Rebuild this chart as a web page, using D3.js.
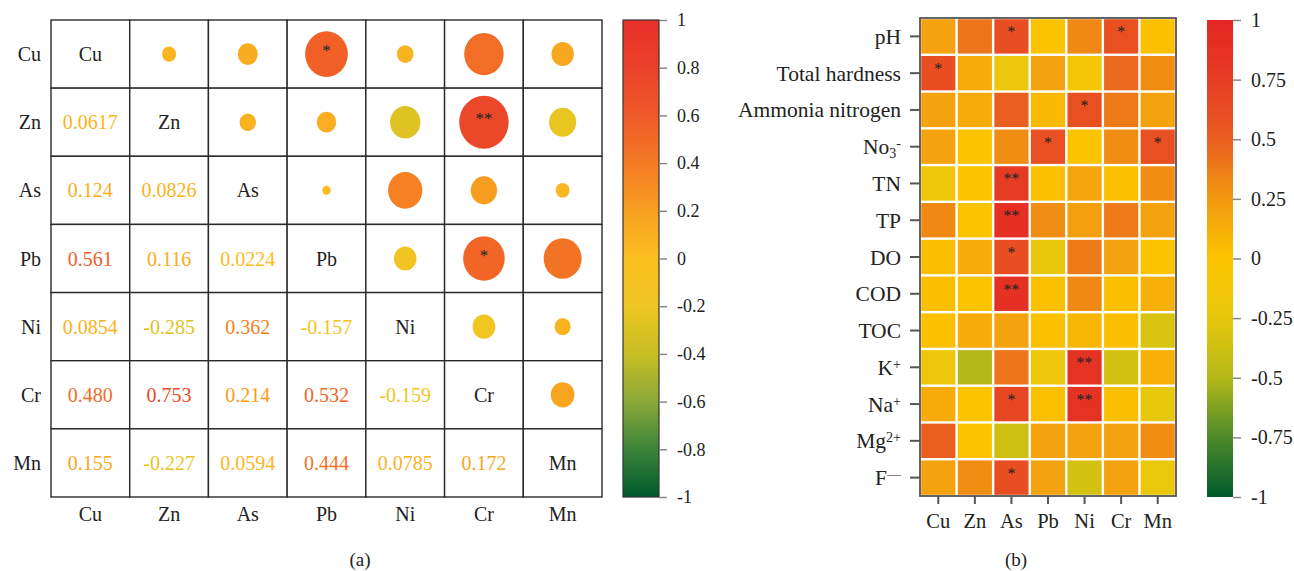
<!DOCTYPE html>
<html>
<head>
<meta charset="utf-8">
<script src="https://cdn.jsdelivr.net/npm/d3@7"></script>
<style>
  body { margin: 0; background: #fff; }
  svg text { font-family: "Liberation Serif", "DejaVu Serif", serif; fill: #222; }
</style>
</head>
<body>
<svg id="chart" width="1294" height="571"></svg>
<script>
// ---- data ----
const metals = ["Cu", "Zn", "As", "Pb", "Ni", "Cr", "Mn"];

// lower triangle of correlation matrix (row i, columns 0..i-1)
const corrLower = [
  [],
  [0.0617],
  [0.124, 0.0826],
  [0.561, 0.116, 0.0224],
  [0.0854, -0.285, 0.362, -0.157],
  [0.480, 0.753, 0.214, 0.532, -0.159],
  [0.155, -0.227, 0.0594, 0.444, 0.0785, 0.172]
];
// labels as printed (keeps trailing zeros)
const corrLabels = [
  [],
  ["0.0617"],
  ["0.124", "0.0826"],
  ["0.561", "0.116", "0.0224"],
  ["0.0854", "-0.285", "0.362", "-0.157"],
  ["0.480", "0.753", "0.214", "0.532", "-0.159"],
  ["0.155", "-0.227", "0.0594", "0.444", "0.0785", "0.172"]
];
// significance marks in upper triangle: [row, col, mark]
const sigA = [["Cu", "Pb", "*"], ["Zn", "Cr", "**"], ["Pb", "Cr", "*"]];

const ticksA = [1, 0.8, 0.6, 0.4, 0.2, 0, -0.2, -0.4, -0.6, -0.8, -1];
const ticksB = [1, 0.75, 0.5, 0.25, 0, -0.25, -0.5, -0.75, -1];

// water quality parameters (segments: [text, "n" | "sub" | "sup"])
const params = [
  [["pH", "n"]],
  [["Total hardness", "n"]],
  [["Ammonia nitrogen", "n"]],
  [["No", "n"], ["3", "sub"], ["-", "sup"]],
  [["TN", "n"]],
  [["TP", "n"]],
  [["DO", "n"]],
  [["COD", "n"]],
  [["TOC", "n"]],
  [["K", "n"], ["+", "sup"]],
  [["Na", "n"], ["+", "sup"]],
  [["Mg", "n"], ["2+", "sup"]],
  [["F", "n"], ["\u2014", "sup"]]
];

// rows = params, cols = metals (Cu Zn As Pb Ni Cr Mn)
const heat = [
  [0.20, 0.40, 0.62, 0.00, 0.32, 0.60, 0.02],
  [0.62, 0.15, -0.20, 0.20, -0.10, 0.45, 0.30],
  [0.20, 0.15, 0.50, 0.06, 0.60, 0.38, 0.20],
  [0.20, 0.00, 0.30, 0.60, 0.00, 0.30, 0.60],
  [-0.18, 0.00, 0.75, 0.02, 0.18, 0.02, 0.30],
  [0.32, 0.00, 0.90, 0.30, 0.22, 0.38, 0.20],
  [0.03, 0.15, 0.62, -0.25, 0.38, 0.20, 0.00],
  [0.03, 0.00, 0.88, 0.02, 0.32, 0.03, 0.12],
  [0.02, 0.15, 0.20, 0.02, 0.08, 0.03, -0.33],
  [-0.20, -0.50, 0.40, -0.20, 0.85, -0.35, 0.12],
  [0.15, 0.00, 0.68, 0.02, 0.85, 0.03, -0.25],
  [0.50, 0.00, -0.38, 0.20, 0.20, 0.20, 0.30],
  [0.20, 0.30, 0.62, 0.20, -0.35, 0.20, -0.22]
];
const heatStars = [
  [0, "As", "*"], [0, "Cr", "*"], [1, "Cu", "*"], [2, "Ni", "*"],
  [3, "Pb", "*"], [3, "Mn", "*"], [4, "As", "**"], [5, "As", "**"],
  [6, "As", "*"], [7, "As", "**"], [9, "Ni", "**"], [10, "As", "*"],
  [10, "Ni", "**"], [12, "As", "*"]
];

// ---- colour scales ----
const colA = d3.scaleLinear()
  .domain([-1, -0.8, -0.6, -0.4, -0.2, 0, 0.2, 0.4, 0.6, 0.8, 1])
  .range(["#005a2c", "#3c843a", "#8aa838", "#c8be24", "#eec622", "#fbbf20",
          "#f7a020", "#f47a24", "#ef5a28", "#ea4229", "#e8302a"]);
const colB = d3.scaleLinear()
  .domain([-1, -0.75, -0.5, -0.25, 0, 0.25, 0.5, 0.75, 1])
  .range(["#005a2c", "#4c8a2c", "#b4b818", "#e8c80c", "#fcc400",
          "#f29a10", "#ea5e20", "#e63c24", "#e42622"]);

const svg = d3.select("#chart");

// ================= panel (a) =================
const ga = svg.append("g");
const xa = d3.scaleBand().domain(metals).range([51, 602]);
const ya = d3.scaleBand().domain(metals).range([20, 497]);

// grid
metals.forEach(r => metals.forEach(c => {
  ga.append("rect")
    .attr("x", xa(c)).attr("y", ya(r))
    .attr("width", xa.bandwidth()).attr("height", ya.bandwidth())
    .attr("fill", "#fff").attr("stroke", "#2a2a2a").attr("stroke-width", 1.4);
}));

const cx = m => xa(m) + xa.bandwidth() / 2;
const cy = m => ya(m) + ya.bandwidth() / 2;

// diagonal names
metals.forEach(m => {
  ga.append("text").attr("x", cx(m)).attr("y", cy(m))
    .attr("text-anchor", "middle").attr("dy", "0.35em")
    .style("font-size", "20px").text(m);
});

// lower triangle numbers + upper triangle ellipses
const cells = [];
corrLower.forEach((row, i) => row.forEach((v, j) => {
  cells.push({ r: metals[i], c: metals[j], v: v, lab: corrLabels[i][j] });
}));
ga.selectAll("text.num").data(cells).enter().append("text")
  .attr("class", "num")
  .attr("x", d => cx(d.c)).attr("y", d => cy(d.r))
  .attr("text-anchor", "middle").attr("dy", "0.35em")
  .style("font-size", "20px")
  .style("fill", d => colA(d.v))
  .text(d => d.lab);

const rScale = d3.scaleSqrt().domain([0, 1]).range([0, 28.5]);
ga.selectAll("ellipse").data(cells).enter().append("ellipse")
  .attr("cx", d => cx(d.r)).attr("cy", d => cy(d.c))
  .attr("rx", d => rScale(Math.abs(d.v)))
  .attr("ry", d => rScale(Math.abs(d.v)) * 1.07)
  .attr("fill", d => colA(d.v));

sigA.forEach(([r, c, s]) => {
  ga.append("text").attr("x", cx(c)).attr("y", cy(r) + 2)
    .attr("text-anchor", "middle")
    .style("font-size", "17px").style("fill", "#222").text(s);
});

// axis labels
metals.forEach(m => {
  ga.append("text").attr("x", 41).attr("y", cy(m)).attr("dy", "0.35em")
    .attr("text-anchor", "end").style("font-size", "20px").text(m);
  ga.append("text").attr("x", cx(m)).attr("y", 514).attr("dy", "0.35em")
    .attr("text-anchor", "middle").style("font-size", "20px").text(m);
});

// colour bars
function colorBar(id, x0, x1, y0, y1, scale, ticks, tickFmt, border, fs) {
  const grad = svg.append("defs").append("linearGradient")
    .attr("id", id).attr("x1", 0).attr("y1", 1).attr("x2", 0).attr("y2", 0);
  d3.range(0, 1.0001, 0.05).forEach(t => {
    grad.append("stop").attr("offset", t).attr("stop-color", scale(-1 + 2 * t));
  });
  svg.append("rect").attr("x", x0).attr("y", y0)
    .attr("width", x1 - x0).attr("height", y1 - y0)
    .attr("fill", `url(#${id})`)
    .attr("stroke", border ? "#333" : "none").attr("stroke-width", 1.2);
  const yc = d3.scaleLinear().domain([-1, 1]).range([y1, y0]);
  const ax = svg.append("g").attr("transform", `translate(${x1},0)`)
    .call(d3.axisRight(yc).tickValues(ticks).tickSize(8).tickPadding(10).tickFormat(tickFmt));
  ax.select(".domain").remove();
  ax.selectAll(".tick line").attr("stroke", "#888").attr("stroke-width", 1.5);
  ax.selectAll(".tick text").style("font-size", fs)
    .style("font-family", "Liberation Serif, serif").attr("fill", "#222");
}
const fmt = d => String(+d.toFixed(2));
colorBar("gradA", 623, 659, 20, 497, colA, ticksA, fmt, true, "18px");

svg.append("text").attr("x", 360).attr("y", 559).attr("dy", "0.35em")
  .attr("text-anchor", "middle").style("font-size", "19px").text("(a)");

// ================= panel (b) =================
const gb = svg.append("g");
const xb = d3.scaleBand().domain(metals).range([920, 1176]);
const yb = d3.scaleBand().domain(d3.range(params.length)).range([18, 496]);

heat.forEach((row, i) => row.forEach((v, j) => {
  gb.append("rect")
    .attr("x", xb(metals[j]) + 1.2).attr("y", yb(i) + 1.2)
    .attr("width", xb.bandwidth() - 2.4).attr("height", yb.bandwidth() - 2.4)
    .attr("fill", colB(v));
}));

heatStars.forEach(([i, m, s]) => {
  gb.append("text").attr("x", xb(m) + xb.bandwidth() / 2)
    .attr("y", yb(i) + yb.bandwidth() / 2 + 1)
    .attr("text-anchor", "middle").style("font-size", "16px").text(s);
});

// frame
gb.append("rect").attr("x", 920).attr("y", 18).attr("width", 256).attr("height", 478)
  .attr("fill", "none").attr("stroke", "#555").attr("stroke-width", 1.8);

const axL = gb.append("g").attr("transform", "translate(920,0)")
  .call(d3.axisLeft(yb).tickSize(10).tickPadding(9).tickFormat(""));
axL.select(".domain").remove();
axL.selectAll(".tick line").attr("stroke", "#555").attr("stroke-width", 2);
axL.selectAll(".tick").each(function(i) {
  const t = d3.select(this).append("text")
    .attr("x", -19).attr("dy", "0.35em").attr("text-anchor", "end")
    .style("font-size", "21.5px").attr("fill", "#222");
  params[i].forEach(([txt, kind]) => {
    const sp = t.append("tspan").text(txt);
    if (kind === "sub") sp.attr("baseline-shift", "-30%").style("font-size", "14px");
    if (kind === "sup") sp.attr("baseline-shift", "40%").style("font-size", "14px");
  });
});

const axB = gb.append("g").attr("transform", "translate(0,496)")
  .call(d3.axisBottom(xb).tickSize(8).tickPadding(9));
axB.select(".domain").remove();
axB.selectAll(".tick line").attr("stroke", "#555").attr("stroke-width", 2);
axB.selectAll(".tick text").style("font-size", "20.5px")
  .style("font-family", "Liberation Serif, serif").attr("fill", "#222");

colorBar("gradB", 1207, 1233, 20, 497, colB, ticksB, fmt, false, "20px");

svg.append("text").attr("x", 1016).attr("y", 559).attr("dy", "0.35em")
  .attr("text-anchor", "middle").style("font-size", "19px").text("(b)");
</script>
</body>
</html>
